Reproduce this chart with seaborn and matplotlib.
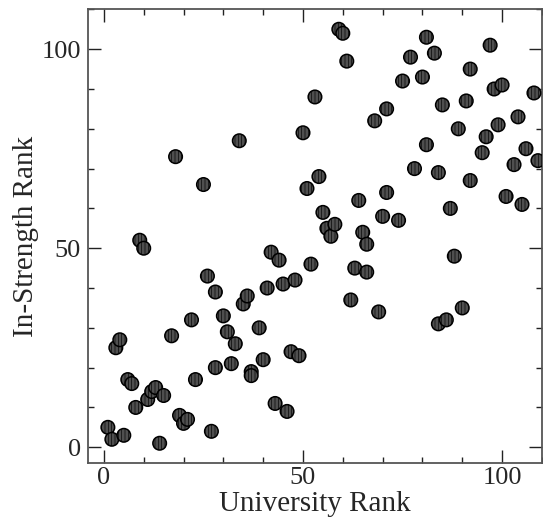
import numpy as np
import pandas as pd
import matplotlib
matplotlib.use('Agg')
import matplotlib.pyplot as plt
from matplotlib.ticker import MultipleLocator
import seaborn as sns

# university rank vs in-strength rank
uni_rank = [1, 2, 3, 4, 5, 6, 7, 8, 9, 10, 11, 12, 13, 14, 15, 17, 18, 19, 20, 21,
            22, 23, 25, 26, 27, 28, 28, 30, 31, 32, 33, 34, 35, 36, 37, 37, 39, 40,
            41, 42, 43, 44, 45, 46, 47, 48, 49, 50, 51, 52, 53, 54, 55, 56, 57, 58,
            59, 60, 61, 62, 63, 64, 65, 66, 66, 68, 69, 70, 71, 71, 74, 75, 77, 78,
            80, 81, 81, 83, 84, 84, 85, 86, 87, 88, 89, 90, 91, 92, 92, 95, 96, 97,
            98, 99, 100, 101, 103, 104, 105, 106, 108, 109]
strength_rank = [5, 2, 25, 27, 3, 17, 16, 10, 52, 50, 12, 14, 15, 1, 13, 28, 73, 8, 6, 7,
                 32, 17, 66, 43, 4, 39, 20, 33, 29, 21, 26, 77, 36, 38, 19, 18, 30, 22,
                 40, 49, 11, 47, 41, 9, 24, 42, 23, 79, 65, 46, 88, 68, 59, 55, 53, 56,
                 105, 104, 97, 37, 45, 62, 54, 51, 44, 82, 34, 58, 85, 64, 57, 92, 98, 70,
                 93, 103, 76, 99, 31, 69, 86, 32, 60, 48, 80, 35, 87, 67, 95, 74, 78, 101,
                 90, 81, 91, 63, 71, 83, 61, 75, 89, 72]

df = pd.DataFrame({'University Rank': uni_rank, 'In-Strength Rank': strength_rank})

sns.set_style('ticks')
plt.rcParams['font.family'] = ['Liberation Serif', 'DejaVu Serif']
plt.rcParams['hatch.linewidth'] = 0.45
plt.rcParams['hatch.color'] = '#2a2a2a'

fig = plt.figure(figsize=(5.43, 5.21), dpi=100)
ax = fig.add_axes([0.162, 0.111, 0.836, 0.871])

sns.scatterplot(data=df, x='University Rank', y='In-Strength Rank', ax=ax,
                s=95, color='#4f4f4f', edgecolor='black', linewidth=1.1,
                marker='o', hatch='|||||', zorder=3)

ax.set_xlim(-4, 110)
ax.set_ylim(-4, 110)
ax.xaxis.set_major_locator(MultipleLocator(50))
ax.xaxis.set_minor_locator(MultipleLocator(10))
ax.yaxis.set_major_locator(MultipleLocator(50))
ax.yaxis.set_minor_locator(MultipleLocator(10))
ax.tick_params(which='both', direction='in', top=True, right=True,
               color='#222222', width=1.0)
ax.tick_params(which='major', length=9.5, labelsize=19, pad=5)
ax.tick_params(axis='x', which='major', pad=3)
ax.tick_params(which='minor', length=4.5)
for sp in ax.spines.values():
    sp.set_color('#555555')
    sp.set_linewidth(1.3)

ax.set_xlabel('University Rank', fontsize=21, labelpad=1)
ax.set_ylabel('In-Strength Rank', fontsize=21, labelpad=2)

fig.savefig('out.png', dpi=100)
